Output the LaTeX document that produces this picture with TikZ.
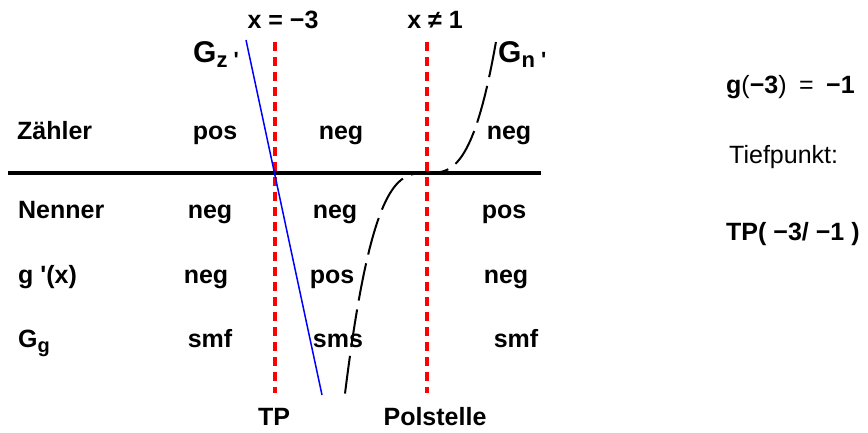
\documentclass[tikz,border=0pt]{standalone}
\usepackage{fontspec}
\newfontfamily\arialfont{Liberation Sans}
\newcommand{\tief}[2][20]{\raisebox{-5pt}{\fontsize{#1}{#1}\selectfont #2}}

\begin{document}
\begin{tikzpicture}[
		x=1pt,y=-1pt,
		every node/.style={
			inner sep=0pt,
			font=\arialfont\bfseries\fontsize{25}{30}\selectfont
		},
		lbl/.style={anchor=base west},
		val/.style={anchor=base},
		grossg/.style={anchor=base west,font=\arialfont\bfseries\fontsize{30}{32}\selectfont},
		polline/.style={red,line width=3.5pt,dash pattern=on 9pt off 6pt},
		kurve/.style={line width=2pt,dash pattern=on 38pt off 9pt}
		]
		
		\useasboundingbox (0,0) rectangle (868,432);
		
		\node[val] (xm3) at (283,28) {x = −3};
		\node[val] (xn1) at (435,28) {x ≠ 1};
		\node[grossg] (gz) at (193,62) {G\tief[22]{z '}};
		\node[grossg] (gn) at (498,62) {G\tief[22]{n '}};
		
		\node[lbl] (zaehler) at (17,139) {Zähler};
		\node[val] (z1) at (215,139) {pos};
		\node[val] (z2) at (341,139) {neg};
		\node[val] (z3) at (509,139) {neg};
		
		\node[lbl] (nenner) at (18,218) {Nenner};
		\node[val] (n1) at (210,218) {neg};
		\node[val] (n2) at (335,218) {neg};
		\node[val] (n3) at (504,218) {pos};
		
		\node[lbl] (gstrich) at (18,283) {g '(x)};
		\node[val] (a1) at (206,283) {neg};
		\node[val] (a2) at (332,283) {pos};
		\node[val] (a3) at (506,283) {neg};
		
		\node[lbl] (gg) at (18,347) {G\tief[20]{g}};
		\node[val] (s1) at (210,347) {smf};
		\node[val] (s2) at (338,347) {sms};
		\node[val] (s3) at (516,347) {smf};
		
		\node[val] (tp) at (274,425) {TP};
		\node[val] (pol) at (435,425) {Polstelle};
		
		\node[lbl] (wert) at (726,93) {g\textmd{(}−3\textmd{)}\enspace\textmd{=}\enspace−1};
		\node[lbl,font=\arialfont\fontsize{25}{30}\selectfont] (tief) at (729,163) {Tiefpunkt:};
		\node[lbl] (tpkt) at (726,240) {TP( −3/ −1 )};
		
		\coordinate (p1o) at (275,42);
		\coordinate (p1u) at (275,393);
		\coordinate (p2o) at (427,42);
		\coordinate (p2u) at (427,393);
		\coordinate (blo) at (246,40);
		\coordinate (blu) at (322,395);
		\coordinate (achl) at (8,173);
		\coordinate (achr) at (541,173);
		
		\draw[line width=3.5pt] (achl)--(achr);
		\draw[polline] (p1o)--(p1u);
		\draw[polline] (p2o)--(p2u);
		\draw[blue,line width=1.5pt] (blo)--(blu);
		\draw[kurve] plot[domain=-0.82:0.69,samples=80] ({427+100*\x},{173-400*\x*\x*\x});
		
	\end{tikzpicture}
\end{document}
